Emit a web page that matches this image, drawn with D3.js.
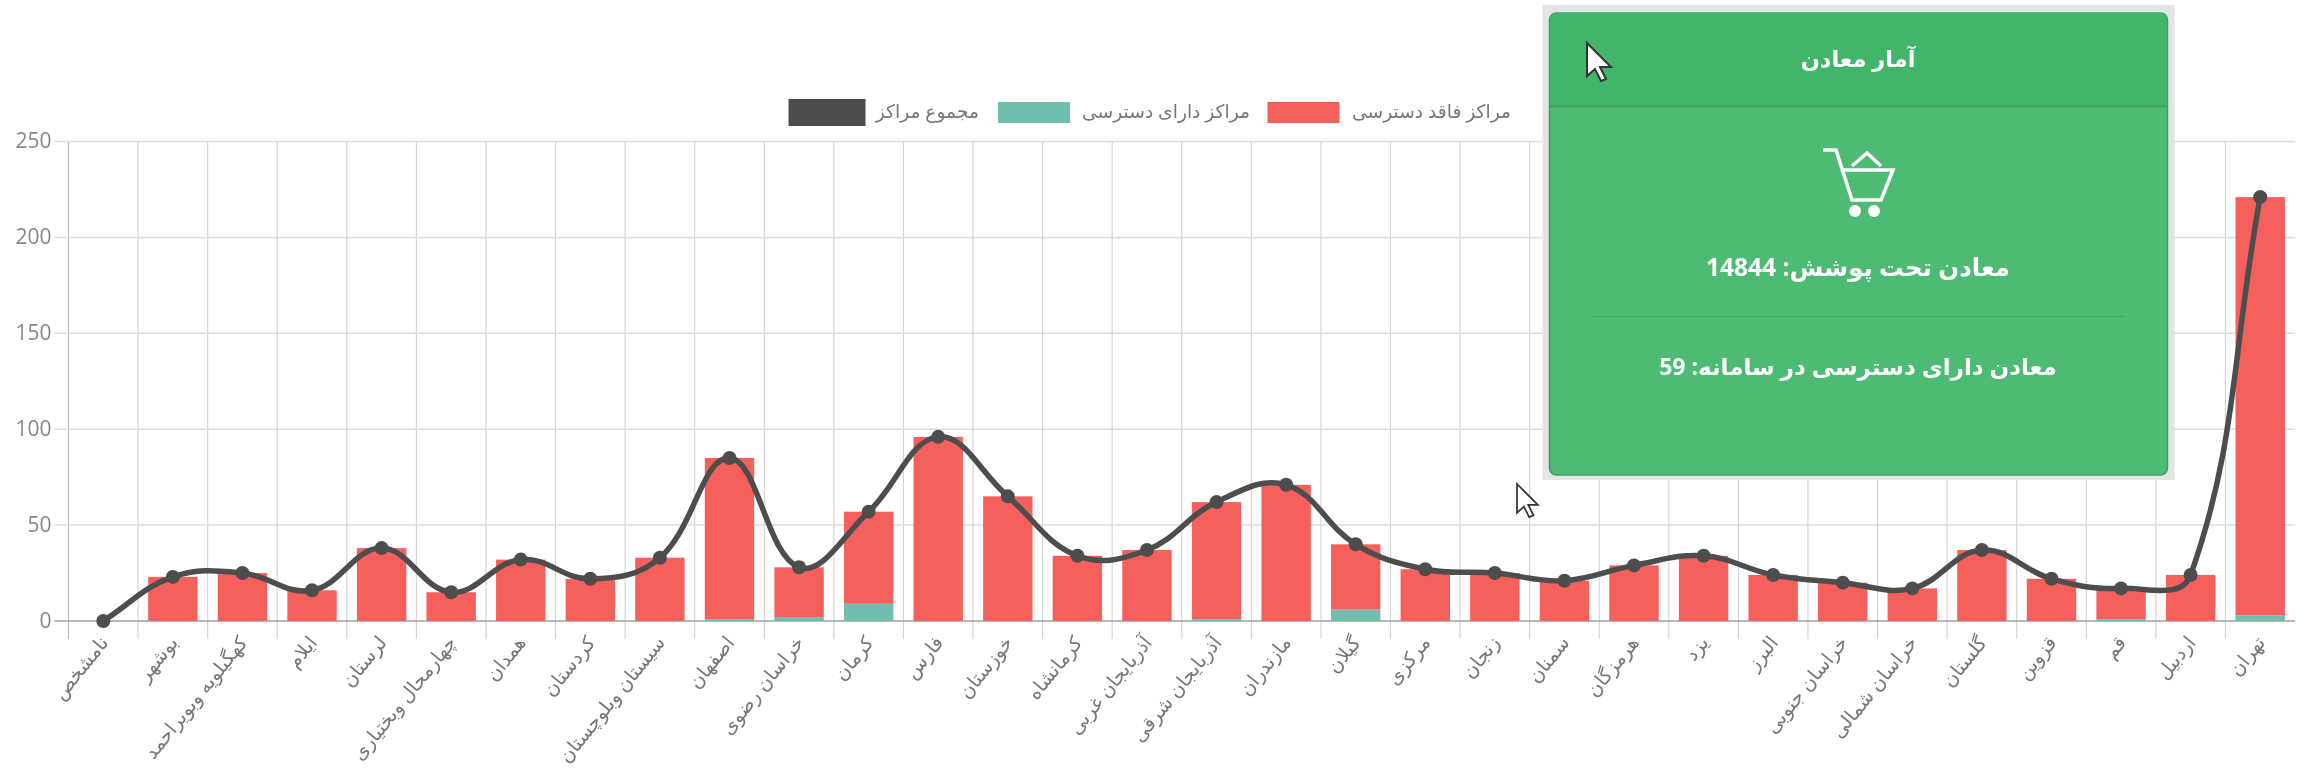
<!DOCTYPE html>
<html><head><meta charset="utf-8">
<script src="https://cdn.jsdelivr.net/npm/d3@7/dist/d3.min.js"></script>
<style>html,body{margin:0;padding:0;background:#fff;overflow:hidden}svg{display:block;filter:blur(0.5px)}</style>
</head><body><svg id="c" width="2308" height="770"></svg>
<script>
const categories=["نامشخص","بوشهر","کهگیلویه وبویراحمد","ایلام","لرستان","چهارمحال وبختیاری","همدان","کردستان","سیستان وبلوچستان","اصفهان","خراسان رضوی","کرمان","فارس","خوزستان","کرمانشاه","آذربایجان غربی","آذربایجان شرقی","مازندران","گیلان","مرکزی","زنجان","سمنان","هرمزگان","یزد","البرز","خراسان جنوبی","خراسان شمالی","گلستان","قزوین","قم","اردبیل","تهران"];
const withAccess=[0,0,0,0,0,0,0,0,0,1,2,9,0,0,0,0,1,0,6,0,0,0,0,0,0,0,0,0,0,1,0,3];
const withoutAccess=[0,23,25,16,38,15,32,22,33,84,26,48,96,65,34,37,61,71,34,27,25,21,29,34,24,20,17,37,22,16,24,218];
const totals=[0,23,25,16,38,15,32,22,33,85,28,57,96,65,34,37,62,71,40,27,25,21,29,34,24,20,17,37,22,17,24,221];
const yTicks=[0,50,100,150,200,250];
const legendLabels=["مراکز فاقد دسترسی","مراکز دارای دسترسی","مجموع مراکز"];
const panelTitle="آمار معادن";
const panelLine1="معادن تحت پوشش: 14844";
const panelLine2="معادن دارای دسترسی در سامانه: 59";
const RED="#f5605d",TEAL="#6fbfae",DARK="#4d4d4d",TXT="#777";
const FF="'Open Sans','DejaVu Sans',sans-serif";
const svg=d3.select("#c");
const L=68.5,R=2295,T=141.5,B=621;
const x=d3.scaleBand().domain(categories).range([L,R]);
const y=d3.scaleLinear().domain([0,250]).range([B,T]);
const g=svg.append("g");
const edges=categories.map((c,i)=>L+i*x.step());
g.selectAll(".v").data(edges).join("line").attr("x1",d=>d).attr("x2",d=>d).attr("y1",T).attr("y2",B+18)
 .attr("stroke",(d,i)=>i==0?"#b5b5b5":"#d2d2d2").attr("stroke-width",1.1);
g.selectAll(".h").data(yTicks).join("line").attr("x1",L-14).attr("x2",R).attr("y1",d=>y(d)).attr("y2",d=>y(d))
 .attr("stroke",d=>d==0?"#a0a0a0":"#dcdcdc").attr("stroke-width",1.5);
g.selectAll(".yl").data(yTicks).join("text").attr("x",L-17).attr("y",d=>y(d)+6.5).attr("text-anchor","end")
 .attr("font-family",FF).attr("font-size",21).attr("fill","#888").text(d=>d);
const bw=x.step()*0.71;
const bx=c=>x(c)+(x.step()-bw)/2;
g.selectAll(".g").data(categories).join("rect").attr("x",bx).attr("width",bw)
 .attr("y",(c,i)=>y(withAccess[i])).attr("height",(c,i)=>y(0)-y(withAccess[i])).attr("fill",TEAL);
g.selectAll(".r").data(categories).join("rect").attr("x",bx).attr("width",bw)
 .attr("y",(c,i)=>y(withAccess[i]+withoutAccess[i])).attr("height",(c,i)=>y(0)-y(withoutAccess[i])).attr("fill",RED);
function SplineCurve(ctx){this._c=ctx;}
SplineCurve.prototype={areaStart(){},areaEnd(){},lineStart(){this.p=[];},point(a,b){this.p.push([a,b]);},
 lineEnd(){const t=0.4,p=this.p,n=p.length,cp=[];
  for(let i=0;i<n;i++){const a=p[Math.max(0,i-1)],b=p[i],c=p[Math.min(n-1,i+1)];
   const d1=Math.hypot(b[0]-a[0],b[1]-a[1]),d2=Math.hypot(c[0]-b[0],c[1]-b[1]);
   const s=d1+d2||1,fa=t*d1/s,fb=t*d2/s;
   cp.push({px:b[0]-fa*(c[0]-a[0]),py:b[1]-fa*(c[1]-a[1]),nx:b[0]+fb*(c[0]-a[0]),ny:b[1]+fb*(c[1]-a[1])});}
  this._c.moveTo(p[0][0],p[0][1]);
  for(let i=1;i<n;i++)this._c.bezierCurveTo(cp[i-1].nx,Math.min(B,cp[i-1].ny),cp[i].px,Math.min(B,cp[i].py),p[i][0],p[i][1]);
 }};
const cx=c=>x(c)+x.bandwidth()/2;
const line=d3.line().x((d,i)=>cx(categories[i])).y(d=>y(d)).curve(c=>new SplineCurve(c));
g.append("path").attr("d",line(totals)).attr("fill","none").attr("stroke",DARK).attr("stroke-width",5.5);
g.selectAll(".p").data(totals).join("circle").attr("cx",(d,i)=>cx(categories[i])).attr("cy",d=>y(d)).attr("r",7).attr("fill",DARK);
g.selectAll(".xl").data(categories).join("text")
 .attr("transform",c=>`translate(${cx(c)+6},${B+22}) rotate(-51)`).attr("text-anchor","end").attr("direction","ltr")
 .attr("font-family",FF).attr("font-size",19.3).attr("fill",TXT).text(c=>c);
const legX=[1267.5,998,788.5],legTR=[1511,1250,979];
const legend=svg.append("g");
legendLabels.forEach((t,i)=>{
 const dark=i==2;
 legend.append("rect").attr("x",legX[i]).attr("y",dark?99:102).attr("width",dark?77:72).attr("height",dark?27:21).attr("fill",[RED,TEAL,DARK][i]);
 legend.append("text").attr("x",legTR[i]).attr("y",118).attr("text-anchor","end").attr("direction","ltr")
  .attr("font-family",FF).attr("font-size",18.7).attr("fill",TXT).text(t);
});
const pn=svg.append("g");
pn.append("rect").attr("x",1542.5).attr("y",5).attr("width",632).attr("height",475).attr("fill","#e3e4e6");
pn.append("rect").attr("x",1549.5).attr("y",13).attr("width",618).attr("height",462).attr("rx",7).attr("fill","#4dbb73").attr("stroke","#3f9f61").attr("stroke-width",1.5);
pn.append("path").attr("d","M1550,107V20a7,7 0 0 1 7,-7H2160a7,7 0 0 1 7,7V107Z").attr("fill","#43b56b");
pn.append("line").attr("x1",1550).attr("x2",2167).attr("y1",106.5).attr("y2",106.5).attr("stroke","#3a9c5c").attr("stroke-width",1.5);
pn.append("line").attr("x1",1591).attr("x2",2125.5).attr("y1",316.5).attr("y2",316.5).attr("stroke","#45a866").attr("stroke-width",1.2);
const ptxt=(t,yy,fs)=>pn.append("text").attr("x",1858).attr("y",yy).attr("text-anchor","middle").attr("font-family",FF).attr("font-weight",700).attr("font-size",fs).attr("fill","#fff").text(t);
ptxt(panelTitle,67,22.5);ptxt(panelLine1,276,24.5);ptxt(panelLine2,375,23);
pn.append("path").attr("d","M1823,150H1836L1852,200H1881L1893,170H1841.5M1852,166L1867,153L1881,166")
 .attr("fill","none").attr("stroke","#fff").attr("stroke-width",3.5);
[1855,1874].forEach(a=>pn.append("circle").attr("cx",a).attr("cy",211).attr("r",6).attr("fill","#fff"));
const cur="M0,0V33L8,26L14,38L19,36L13,24H24Z";
[[1587,43,1],[1517,484,0.87]].forEach(p=>svg.append("path").attr("d",cur).attr("transform",`translate(${p[0]},${p[1]}) scale(${p[2]})`).attr("fill","#fff").attr("stroke","#333").attr("stroke-width",2));
</script></body></html>
